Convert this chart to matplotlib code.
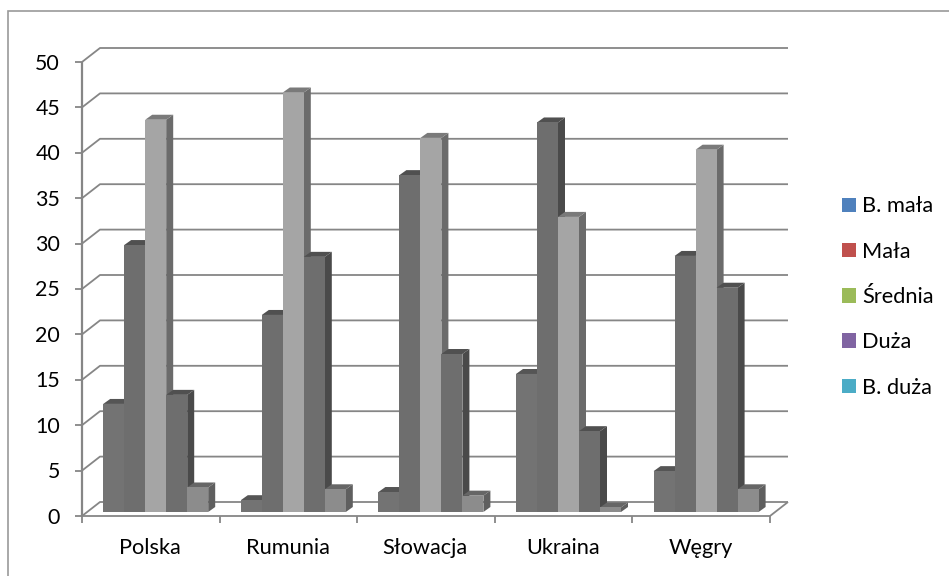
import matplotlib
matplotlib.use("Agg")
import matplotlib.pyplot as plt
from matplotlib.patches import Patch, Polygon, Rectangle
import numpy as np

plt.rcParams["font.family"] = ["Lato", "DejaVu Sans"]

# ── Data ─────────────────────────────────────────────────────────────────────
countries = ["Polska", "Rumunia", "Słowacja", "Ukraina", "Węgry"]
series_names = ["B. mała", "Mała", "Średnia", "Duża", "B. duża"]
b_mala = [11.9, 1.3, 2.2, 15.2, 4.5]
mala = [29.4, 21.7, 37.1, 42.9, 28.2]
srednia = [43.2, 46.2, 41.2, 32.5, 39.9]
duza = [12.9, 28.1, 17.4, 8.9, 24.7]
b_duza = [2.7, 2.5, 1.8, 0.5, 2.5]
y_ticks = [0, 5, 10, 15, 20, 25, 30, 35, 40, 45, 50]

# ── Palette ──────────────────────────────────────────────────────────────────
FRONT = ["#737373", "#6e6e6e", "#a5a5a5", "#6e6e6e", "#8c8c8c"]
SIDE = ["#4d4d4d", "#4a4a4a", "#6b6b6b", "#4a4a4a", "#5f5f5f"]
TOP = ["#555555", "#505050", "#7a7a7a", "#505050", "#666666"]
LEGEND = ["#4f81bd", "#c0504d", "#9bbb59", "#8064a2", "#4bacc6"]
GRID = "#868686"
FRAME = "#9a9a9a"

W, H = 949, 576
fig = plt.figure(figsize=(W / 100, H / 100), dpi=100, facecolor="white")
ax = fig.add_axes([82 / W, (H - 516) / H, 688 / W, 454 / H])
ax.set_xlim(-0.5, 4.5)
ax.set_ylim(0, 50)
ax.axis("off")

# pixel sizes turned into data units
ux = 5 / 688
uy = 50 / 454
wall_dx, wall_dy = 18 * ux, 14 * uy
depth_dx, depth_dy = 7 * ux, 5 * uy
shift_x, shift_y = 4.9 * ux, 4 * uy
bar_w = 21 * ux

# chart frame (runs off the picture on the right and bottom)
fig.add_artist(Rectangle((8 / W, -0.1), 1.1, 1.1 - 11.5 / H, transform=fig.transFigure,
                         facecolor="none", edgecolor=FRAME, linewidth=1.2))

# ── Walls and floor ──────────────────────────────────────────────────────────
line = dict(color=GRID, linewidth=1.3, clip_on=False, solid_capstyle="butt", zorder=1)
x0, x1 = -0.5, 4.5
for v in y_ticks:
    ax.plot([x0, x0 + wall_dx, x1 + wall_dx],
            [v, v + wall_dy, v + wall_dy], **line)
    ax.plot([x0 - 7 * ux, x0], [v, v], **line)
    ax.text(x0 - 22 * ux, v - 1.5 * uy, str(v), ha="right", va="center", fontsize=15.4, color="black")
ax.plot([x0, x0], [0, 50], **{**line, "linewidth": 1.6})
ax.plot([x0, x1, x1 + wall_dx], [0, 0, wall_dy], **line)
for i in range(len(countries) + 1):
    ax.plot([x0 + i, x0 + i], [0, -7 * uy], **line)

# ── Bars ─────────────────────────────────────────────────────────────────────
all_series = [b_mala, mala, srednia, duza, b_duza]
centers = np.arange(len(countries)) + shift_x
z = 3
for c in range(len(countries)):
    for s, vals in enumerate(all_series):
        left = centers[c] + (s - 2.5) * bar_w
        right = left + bar_w
        top = vals[c] + shift_y
        ax.add_patch(Polygon([(right, shift_y), (right + depth_dx, shift_y + depth_dy),
                              (right + depth_dx, top + depth_dy), (right, top)],
                             facecolor=SIDE[s], edgecolor="none", clip_on=False, zorder=z))
        ax.add_patch(Polygon([(left, top), (left + depth_dx, top + depth_dy),
                              (right + depth_dx, top + depth_dy), (right, top)],
                             facecolor=TOP[s], edgecolor="none", clip_on=False, zorder=z))
        ax.bar(left, vals[c], width=bar_w, bottom=shift_y, align="edge",
               color=FRONT[s], clip_on=False, zorder=z + 0.5)
        z += 1

for i, name in enumerate(countries):
    ax.text(i - 0.005, -32 * uy, name, ha="center", va="center", fontsize=15.7, color="black")

# ── Legend ───────────────────────────────────────────────────────────────────
handles = [Patch(facecolor=c, edgecolor="none", label=n) for c, n in zip(LEGEND, series_names)]
fig.legend(handles=handles, loc="center left", bbox_to_anchor=(842 / W, 1 - 297 / H),
           frameon=False, fontsize=15.7, labelspacing=1.16, handlelength=0.64,
           handleheight=0.64, handletextpad=0.3, borderpad=0, borderaxespad=0)

fig.savefig("out.png", dpi=100, facecolor="white")
